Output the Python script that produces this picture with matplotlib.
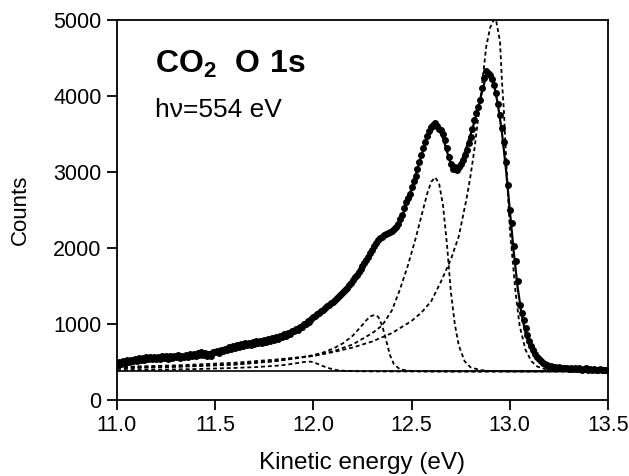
import numpy as np
import matplotlib
matplotlib.use('Agg')
import matplotlib.pyplot as plt

plt.rcParams['font.family'] = ['Liberation Sans', 'DejaVu Sans']
plt.rcParams['mathtext.fontset'] = 'custom'
plt.rcParams['mathtext.rm'] = 'Liberation Sans'
plt.rcParams['mathtext.bf'] = 'Liberation Sans:bold'

# measured spectrum, 0.01 eV steps from 11.00 to 13.50
energy = np.round(np.arange(11.0, 13.5001, 0.01), 2)
counts = [
    475, 505, 480, 515, 490, 525, 500, 530, 510, 540,
    515, 550, 525, 555, 530, 560, 535, 565, 540, 570,
    545, 570, 540, 575, 550, 580, 545, 575, 555, 585,
    560, 590, 555, 585, 565, 595, 570, 605, 575, 610,
    585, 615, 590, 625, 595, 620, 585, 605, 580, 625,
    630, 650, 620, 660, 645, 675, 655, 695, 675, 705,
    685, 720, 700, 735, 710, 745, 720, 755, 730, 765,
    740, 770, 745, 780, 755, 785, 765, 800, 775, 810,
    795, 825, 805, 845, 825, 865, 845, 885, 870, 910,
    905, 940, 925, 965, 960, 995, 995, 1035, 1030, 1065,
    1090, 1110, 1125, 1150, 1165, 1190, 1210, 1235, 1250, 1275,
    1290, 1320, 1340, 1370, 1395, 1420, 1450, 1480, 1510, 1545,
    1580, 1620, 1650, 1690, 1720, 1760, 1800, 1840, 1880, 1930,
    1980, 2020, 2060, 2100, 2130, 2150, 2170, 2180, 2195, 2210,
    2230, 2250, 2270, 2320, 2380, 2440, 2520, 2600, 2660, 2710,
    2800, 2880, 2950, 3040, 3130, 3220, 3310, 3400, 3480, 3540,
    3590, 3620, 3640, 3600, 3570, 3550, 3500, 3420, 3320, 3200,
    3100, 3040, 3060, 3030, 3070, 3110, 3160, 3220, 3290, 3380,
    3460, 3560, 3690, 3780, 3860, 3950, 4100, 4240, 4330, 4300,
    4270, 4220, 4150, 4040, 3900, 3750, 3580, 3400, 3130, 2830,
    2500, 2330, 2020, 1830, 1560, 1250, 1140, 1050, 950, 860,
    770, 710, 660, 610, 570, 540, 510, 490, 470, 455,
    440, 445, 430, 435, 425, 430, 420, 425, 415, 420,
    410, 420, 405, 415, 410, 420, 405, 400, 410, 415,
    400, 410, 395, 405, 400, 395, 405, 390, 400, 395,
    390,
]

# fitted total, 0.02 eV steps
fit_energy = np.round(np.arange(11.0, 13.5001, 0.02), 2)
fit_counts = [
    490, 497, 504, 511, 518, 525, 532, 538, 544, 549,
    554, 558, 562, 566, 570, 574, 578, 583, 588, 594,
    600, 607, 614, 622, 631, 640, 651, 662, 674, 686,
    698, 710, 722, 734, 746, 758, 770, 782, 795, 808,
    822, 838, 856, 876, 898, 928, 960, 992, 1025, 1058,
    1090, 1120, 1155, 1190, 1230, 1275, 1320, 1370, 1420, 1480,
    1545, 1615, 1690, 1770, 1860, 1960, 2040, 2100, 2150, 2190,
    2225, 2270, 2350, 2470, 2620, 2780, 2950, 3130, 3300, 3450,
    3550, 3580, 3550, 3450, 3270, 3110, 3050, 3070, 3180, 3330,
    3490, 3660, 3850, 4070, 4270, 4290, 4150, 3880, 3520, 3050,
    2500, 1950, 1480, 1130, 880, 720, 610, 540, 495, 465,
    445, 432, 424, 418, 414, 411, 409, 407, 405, 403,
    401, 399, 398, 397, 396, 395,
]

baseline = 375

# fit components (unconvolved line profiles)
c1_e = [11.0, 11.2, 11.4, 11.6, 11.7, 11.8, 11.85, 11.9, 11.94, 11.97, 11.99,
        12.01, 12.03, 12.06, 12.09, 12.12, 12.16, 12.2, 12.3, 12.5, 13.0, 13.5]
c1_y = [392, 398, 407, 422, 432, 448, 460, 478, 495, 505, 503,
        488, 465, 435, 410, 393, 383, 379, 376, 375, 375, 375]

c2_e = [11.0, 11.2, 11.4, 11.6, 11.8, 11.9, 12.0, 12.05, 12.1, 12.15, 12.2,
        12.24, 12.27, 12.29, 12.31, 12.33, 12.35, 12.37, 12.39, 12.41, 12.44,
        12.48, 12.55, 12.7, 13.5]
c2_y = [415, 428, 445, 470, 510, 545, 590, 625, 675, 745, 845,
        960, 1050, 1100, 1118, 1095, 980, 790, 590, 470, 405,
        385, 378, 375, 375]

c3_e = [11.0, 11.3, 11.6, 11.8, 12.0, 12.1, 12.2, 12.24, 12.3, 12.35, 12.4,
        12.44, 12.48, 12.52, 12.55, 12.58, 12.6, 12.62, 12.64, 12.66, 12.68,
        12.7, 12.72, 12.74, 12.77, 12.8, 12.85, 12.9, 13.0, 13.5]
c3_y = [425, 440, 465, 510, 580, 640, 730, 790, 880, 980, 1180,
        1450, 1760, 2120, 2420, 2720, 2870, 2930, 2850, 2560, 2050,
        1420, 1000, 720, 510, 430, 393, 382, 377, 375]

c4_e = [11.0, 11.3, 11.6, 11.8, 12.0, 12.1, 12.2, 12.3, 12.4, 12.5, 12.55,
        12.6, 12.65, 12.7, 12.74, 12.78, 12.8, 12.82, 12.85, 12.88, 12.9,
        12.92, 12.93, 12.95, 12.96, 12.97, 12.98, 13.0, 13.03, 13.05, 13.08,
        13.11, 13.14, 13.2, 13.3, 13.5]
c4_y = [435, 455, 490, 530, 580, 630, 690, 770, 880, 1040, 1150,
        1300, 1560, 1850, 2150, 2650, 2950, 3300, 3950, 4650, 4900,
        5010, 5000, 4720, 4200, 3800, 3250, 2250, 1400, 980, 660,
        510, 440, 390, 378, 375]

fig = plt.figure(figsize=(6.29, 4.76), dpi=100)
ax = fig.add_axes([0.186, 0.1597, 0.7806, 0.7983])

ax.axhline(baseline, color='black', lw=1.2)
for e, y in [(c1_e, c1_y), (c2_e, c2_y), (c3_e, c3_y), (c4_e, c4_y)]:
    ax.plot(e, y, color='black', lw=1.3, linestyle=(0, (2.2, 1.6)))
ax.plot(fit_energy, fit_counts, color='black', lw=1.6)
ax.plot(energy, counts, 'o', color='black', markersize=5, markeredgewidth=0)

ax.set_xlim(11.0, 13.5)
ax.set_ylim(0, 5000)
ax.set_xticks([11.0, 11.5, 12.0, 12.5, 13.0, 13.5])
ax.set_xticklabels(['11.0', '11.5', '12.0', '12.5', '13.0', '13.5'])
ax.set_yticks([0, 1000, 2000, 3000, 4000, 5000])
ax.tick_params(direction='out', length=7, width=1.3, labelsize=15.5,
               top=False, right=False, pad=4)
for s in ax.spines.values():
    s.set_linewidth(1.3)

ax.set_xlabel('Kinetic energy (eV)', fontsize=17.5, labelpad=11)
ax.set_ylabel('Counts', fontsize=16, labelpad=16)

ax.text(0.0774, 0.860, r'$\mathbf{CO_2}$  $\mathbf{O\ 1s}$', transform=ax.transAxes,
        fontsize=23, ha='left', va='baseline')
ax.text(0.0774, 0.745, 'h\u03bd=554 eV', transform=ax.transAxes,
        fontsize=19, ha='left', va='baseline')

fig.savefig('out.png', dpi=100)
